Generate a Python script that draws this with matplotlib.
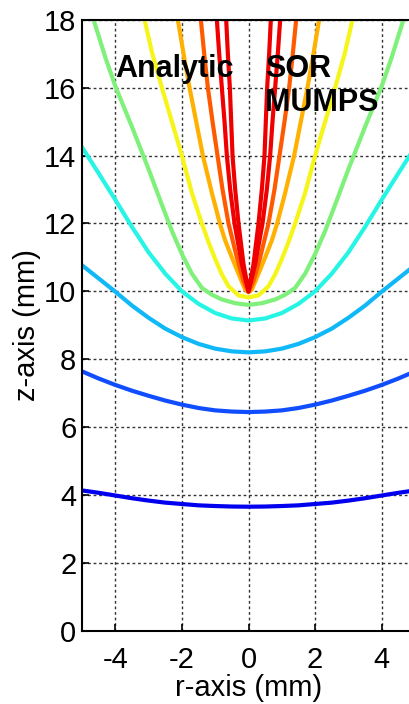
import numpy as np
import matplotlib
matplotlib.use('Agg')
import matplotlib.pyplot as plt

plt.rcParams['font.family'] = ['Liberation Sans', 'DejaVu Sans']
plt.rcParams['axes.unicode_minus'] = False

# right half of each equipotential curve (r, z) in mm, mirrored for r < 0
r_lvl1 = [0, 0.5, 1, 1.5, 2, 2.5, 3, 3.5, 4, 4.5, 5]
z_lvl1 = [3.65, 3.655, 3.67, 3.69, 3.73, 3.77, 3.83, 3.90, 3.98, 4.06, 4.13]

r_lvl2 = [0, 0.5, 1, 1.5, 2, 2.5, 3, 3.5, 4, 4.5, 5]
z_lvl2 = [6.44, 6.455, 6.49, 6.56, 6.66, 6.78, 6.92, 7.07, 7.24, 7.43, 7.64]

r_lvl3 = [0, 0.5, 1, 1.5, 2, 2.5, 3, 3.5, 4, 4.5, 5]
z_lvl3 = [8.20, 8.23, 8.31, 8.45, 8.65, 8.90, 9.22, 9.58, 9.99, 10.38, 10.77]

r_lvl4 = [0, 0.5, 1, 1.5, 2, 2.5, 3, 3.5, 4, 4.5, 5]
z_lvl4 = [9.14, 9.20, 9.36, 9.63, 10.0, 10.52, 11.15, 11.9, 12.7, 13.48, 14.25]

r_lvl5 = [0, 0.4, 0.8, 1.1, 1.4, 1.7, 2.0, 2.3, 2.6, 3.0, 3.5, 4.0, 4.3, 4.65]
z_lvl5 = [9.60, 9.65, 9.76, 9.90, 10.10, 10.52, 11.10, 11.78, 12.55, 13.6, 14.85, 16.05, 16.9, 18.0]

r_lvl6 = [0, 0.3, 0.6, 0.8, 1.0, 1.2, 1.4, 1.7, 2.0, 2.3, 2.6, 2.9, 3.12]
z_lvl6 = [9.82, 9.88, 10.15, 10.5, 10.95, 11.45, 12.0, 12.9, 14.0, 15.0, 16.0, 17.05, 18.0]

r_lvl7 = [0, 0.1, 0.25, 0.5, 0.7, 0.86, 1.1, 1.37, 1.57, 1.77, 1.95, 2.12]
z_lvl7 = [9.97, 10.05, 10.4, 11.0, 11.5, 12.0, 12.9, 14.0, 15.0, 16.0, 17.0, 18.0]

r_lvl8 = [0, 0.15, 0.35, 0.6, 0.78, 0.93, 1.08, 1.22, 1.33, 1.43]
z_lvl8 = [9.98, 10.3, 11.0, 12.0, 13.0, 14.0, 15.0, 16.0, 17.0, 18.0]

r_lvl9 = [0, 0.2, 0.42, 0.55, 0.65, 0.72, 0.80, 0.88, 0.95]
z_lvl9 = [10.0, 10.8, 12.0, 13.0, 14.0, 15.0, 16.0, 17.0, 18.0]

r_lvl10 = [0, 0.15, 0.30, 0.40, 0.48, 0.52, 0.56, 0.62, 0.67]
z_lvl10 = [10.0, 10.8, 12.0, 13.0, 14.0, 15.0, 16.0, 17.0, 18.0]

curves = [
    (r_lvl1, z_lvl1, '#0000ee'),
    (r_lvl2, z_lvl2, '#0f4dff'),
    (r_lvl3, z_lvl3, '#10b8f8'),
    (r_lvl4, z_lvl4, '#26f5e6'),
    (r_lvl5, z_lvl5, '#7ff07a'),
    (r_lvl6, z_lvl6, '#f5f51a'),
    (r_lvl7, z_lvl7, '#ffb000'),
    (r_lvl8, z_lvl8, '#ff5a00'),
    (r_lvl9, z_lvl9, '#f00000'),
    (r_lvl10, z_lvl10, '#ee0000'),
]

fig = plt.figure(figsize=(4.09, 7.04), dpi=100)
ax = fig.add_axes([0.2005, 0.1044, 0.8142, 0.8672])

for r, z, c in curves:
    r = np.asarray(r, dtype=float)
    z = np.asarray(z, dtype=float)
    rr = np.concatenate([-r[::-1], r[1:]])
    zz = np.concatenate([z[::-1], z[1:]])
    ax.plot(rr, zz, color=c, lw=3, solid_joinstyle='round')

ax.set_xlim(-5, 5)
ax.set_ylim(0, 18)
ax.set_xticks([-4, -2, 0, 2, 4])
ax.set_yticks(range(0, 19, 2))
ax.grid(True, linestyle=(0, (2, 2)), color='#333333', lw=1)
ax.tick_params(direction='in', labelsize=21, length=5, width=1.2)
ax.tick_params(axis='x', pad=11)
ax.tick_params(axis='y', pad=4)
for s in ax.spines.values():
    s.set_linewidth(1.5)
ax.set_xlabel('r-axis (mm)', fontsize=21, labelpad=0)
ax.set_ylabel('z-axis (mm)', fontsize=21, labelpad=2)

ax.text(-4.0, 16.55, 'Analytic', fontsize=22, fontweight='bold', va='center')
ax.text(0.5, 16.55, 'SOR', fontsize=22, fontweight='bold', va='center')
ax.text(0.5, 15.55, 'MUMPS', fontsize=22, fontweight='bold', va='center')

fig.savefig('out.png', dpi=100)
